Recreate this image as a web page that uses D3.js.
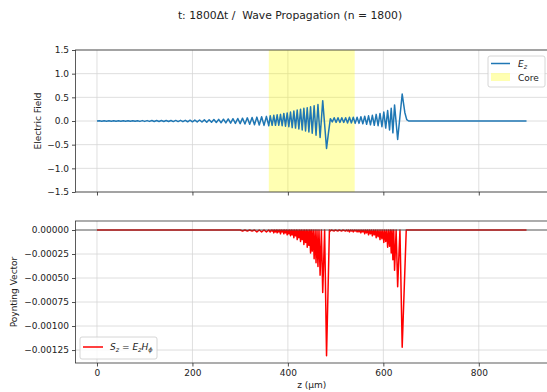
<!DOCTYPE html>
<html>
<head>
<meta charset="utf-8">
<script src="https://cdn.jsdelivr.net/npm/d3@7"></script>
<style>
  body { margin: 0; background: #fff; }
  svg { display: block; font-family: "DejaVu Sans", sans-serif; }
</style>
</head>
<body>
<svg class="chart"></svg>
<script>
// values
var xTicks = [0, 200, 400, 600, 800];
var eTicks = [-1.5, -1.0, -0.5, 0.0, 0.5, 1.0, 1.5];
var sTicks = [0, -0.00025, -0.0005, -0.00075, -0.001, -0.00125];
var coreRange = [360, 540];
var titleText = "t: 1800\u0394t /  Wave Propagation (n = 1800)";

// E_z samples [z, E]
var ezSamples = [
  [0, 0], [5, .005], [10, -.005], [15, .005], [20, -.005], [25, .005], [30, -.005], [35, .006], [40, -.006],
  [45, .006], [50, -.006], [55, .006], [60, -.006], [65, .007], [70, -.007], [75, .007], [80, -.007],
  [85, .007], [90, -.008], [95, .008], [100, -.008], [105, .008], [110, -.008], [115, .009], [120, -.009],
  [125, .009], [130, -.009], [135, .01], [140, -.01], [145, .01], [150, -.011], [155, .011], [160, -.012],
  [165, .012], [170, -.013], [175, .014], [180, -.014], [185, .015], [190, -.016], [195, .017], [200, -.018],
  [205, .019], [210, -.02], [215, .021], [220, -.022], [225, .024], [230, -.025], [235, .027], [240, -.028],
  [245, .03], [250, -.032], [255, .034], [260, -.036], [265, .038], [270, -.04], [275, .043], [280, -.045],
  [285, .048], [290, -.05], [295, .053], [300, -.056], [305, .06], [310, -.063], [315, .067], [320, -.07],
  [325, .074], [330, -.078], [335, .082], [340, -.085], [345, .09], [350, -.093], [355, .098], [360, -.1],
  [363, .11], [367, -.09], [370.5, .12], [374, -.09], [377.5, .13], [381, -.09], [384.5, .14], [388, -.1],
  [391.5, .16], [395, -.11], [398.5, .17], [402, -.12], [405.5, .19], [409, -.14], [412.5, .21], [416, -.15],
  [419.5, .23], [423, -.17], [426.5, .25], [430, -.19], [433.5, .27], [437, -.21], [440.5, .28], [444, -.23],
  [447.5, .3], [451, -.26], [455, .32], [459, -.3], [463, .35], [467.5, -.35], [473, .43], [481, -.58],
  [485, -.25], [489, .05], [493, -.02], [497, .07], [501, -.03], [505, .07], [509, -.03], [513, .07],
  [517, -.03], [521, .07], [525, -.04], [529, .08], [533, -.04], [537, .08], [541, -.05], [545, .08],
  [549, -.05], [553, .09], [557, -.06], [561, .1], [565, -.07], [569, .11], [573, -.08], [577, .12],
  [581, -.09], [585, .14], [589, -.1], [593, .16], [597, -.12], [601, .19], [605, -.15], [609, .22],
  [613, -.19], [616.5, .27], [620, -.25], [623.5, .34], [630, -.39], [639.5, .57], [645, .18], [649, .03],
  [653, 0], [900, 0]
];

// S_z samples [z, S]
var szSamples = [
  [0, 0], [300, 0], [305, -.00001], [310, 0], [315, -.00001], [320, 0], [325, -.00001], [330, 0],
  [335, -.00002], [340, 0], [345, -.00002], [350, 0], [355, -.00002], [360, 0],
  [363, -.00002], [365, 0], [367, -.00001], [368.8, 0], [370.5, -.00003], [372.2, 0], [374, -.00002], [375.8, 0],
  [377.5, -.00003], [379.2, 0], [381, -.00002], [382.8, 0], [384.5, -.00004], [386.2, 0], [388, -.00002], [389.8, 0],
  [391.5, -.00004], [393.2, 0], [395, -.00003], [396.8, 0], [398.5, -.00005], [400.2, 0], [402, -.00004], [403.8, 0],
  [405.5, -.00006], [407.2, 0], [409, -.00005], [410.8, 0], [412.5, -.00008], [414.2, 0], [416, -.00006], [417.8, 0],
  [419.5, -.0001], [421.2, 0], [423, -.00008], [424.8, 0], [426.5, -.00012], [428.2, 0], [430, -.0001], [431.8, 0],
  [433.5, -.00015], [435.2, 0], [437, -.00013], [438.8, 0], [440.5, -.00018], [442.2, 0], [444, -.00016], [445.8, 0],
  [447.5, -.00024], [449.2, 0], [451, -.00022], [453, 0], [455, -.0003], [457, 0], [459, -.00034], [461, 0],
  [463, -.00038], [465.2, 0], [467.5, -.00047], [470.2, 0], [473, -.00065], [477, 0], [481, -.00131], [487, 0],
  [489, -.00001], [491, 0], [497, -.00001], [499, 0], [505, -.00001], [507, 0], [513, -.00001], [515, 0],
  [521, -.00001], [523, 0], [525, -.00001], [527, 0], [529, -.00002], [531, 0], [533, -.00001], [535, 0],
  [537, -.00002], [539, 0], [541, -.00001], [543, 0], [545, -.00002], [547, 0], [549, -.00002], [551, 0],
  [553, -.00003], [555, 0], [557, -.00002], [559, 0], [561, -.00004], [563, 0], [565, -.00003], [567, 0],
  [569, -.00005], [571, 0], [573, -.00004], [575, 0], [577, -.00006], [579, 0], [581, -.00005], [583, 0],
  [585, -.00008], [587, 0], [589, -.00007], [591, 0], [593, -.0001], [595, 0], [597, -.00009], [599, 0],
  [601, -.00013], [603, 0], [605, -.00012], [607, 0], [609, -.00018], [611, 0], [613, -.00017], [614.8, 0],
  [616.5, -.00024], [618.2, 0], [620, -.00031], [621.8, 0], [623.5, -.00042], [626.8, 0], [630, -.00059],
  [634.8, 0], [639.5, -.00122], [648, 0], [900, 0]
];

var W = 547, H = 392;
var svg = d3.select(".chart").attr("width", W).attr("height", H);

var left = 75.5, right = 548;
var topBox = {y0: 50, y1: 192};
var botBox = {y0: 221, y1: 363};

var scaleX = d3.scaleLinear().domain([-45, 945]).range([left, right]);
var scaleE = d3.scaleLinear().domain([-1.5, 1.5]).range([topBox.y1, topBox.y0]);
var scaleS = d3.scaleLinear().domain([-0.001385, 0.0000938]).range([botBox.y1, botBox.y0]);

function fmtMinus(s) { return s.replace("-", "\u2212"); }

// grid lines behind everything
function drawGrid(box, scaleY, ticks) {
  var g = svg.append("g");
  g.selectAll(".gx").data(xTicks).enter().append("line")
    .attr("x1", function(d) { return scaleX(d); }).attr("x2", function(d) { return scaleX(d); })
    .attr("y1", box.y0).attr("y2", box.y1)
    .attr("stroke", "#d6d6d6").attr("stroke-width", 0.8);
  g.selectAll(".gy").data(ticks).enter().append("line")
    .attr("x1", left).attr("x2", right)
    .attr("y1", function(d) { return scaleY(d); }).attr("y2", function(d) { return scaleY(d); })
    .attr("stroke", "#d6d6d6").attr("stroke-width", 0.8);
}

// axes + spines on top
function drawFrame(box, scaleY, ticks, fmt, showXLabels) {
  var g = svg.append("g");
  var yAxis = d3.axisLeft(scaleY).tickValues(ticks).tickSize(3.5).tickPadding(3)
    .tickFormat(function(d) { return fmtMinus(fmt(d)); });
  var ya = g.append("g").attr("transform", "translate(" + left + ",0)").call(yAxis);
  ya.select(".domain").remove();
  var xAxis = d3.axisBottom(scaleX).tickValues(xTicks).tickSize(3.5).tickPadding(3.5)
    .tickFormat(showXLabels ? d3.format("d") : "");
  var xa = g.append("g").attr("transform", "translate(0," + box.y1 + ")").call(xAxis);
  xa.select(".domain").remove();
  g.selectAll(".tick text").attr("font-size", 9).attr("font-family", "DejaVu Sans").attr("fill", "#222");
  g.selectAll(".tick line").attr("stroke", "#222").attr("stroke-width", 0.8);
  g.append("rect").attr("x", left).attr("y", box.y0)
    .attr("width", right - left).attr("height", box.y1 - box.y0)
    .attr("fill", "none").attr("stroke", "#333").attr("stroke-width", 0.8);
}

// ---- top panel: Electric field
drawGrid(topBox, scaleE, eTicks);
svg.append("rect")
  .attr("x", scaleX(coreRange[0])).attr("y", topBox.y0)
  .attr("width", scaleX(coreRange[1]) - scaleX(coreRange[0]))
  .attr("height", topBox.y1 - topBox.y0)
  .attr("fill", "yellow").attr("opacity", 0.3);

var lineE = d3.line().x(function(d) { return scaleX(d[0]); }).y(function(d) { return scaleE(d[1]); });
svg.append("path").datum(ezSamples).attr("d", lineE)
  .attr("fill", "none").attr("stroke", "#1f77b4").attr("stroke-width", 1.5).attr("stroke-linejoin", "round");
drawFrame(topBox, scaleE, eTicks, d3.format(".1f"), false);

// ---- bottom panel: Poynting vector
drawGrid(botBox, scaleS, sTicks);
var lineS = d3.line().x(function(d) { return scaleX(d[0]); }).y(function(d) { return scaleS(d[1]); });
svg.append("path").datum(szSamples).attr("d", lineS)
  .attr("fill", "none").attr("stroke", "red").attr("stroke-width", 1.5).attr("stroke-linejoin", "round");
svg.append("line").attr("x1", left).attr("x2", right)
  .attr("y1", scaleS(0)).attr("y2", scaleS(0))
  .attr("stroke", "#444").attr("stroke-width", 1).attr("opacity", 0.8);
drawFrame(botBox, scaleS, sTicks, d3.format(".5f"), true);

// ---- texts
svg.append("text").attr("x", 290).attr("y", 19).attr("text-anchor", "middle")
  .attr("font-size", 10.8).attr("fill", "#222").style("white-space", "pre").text(titleText);
svg.append("text").attr("transform", "translate(40.5,121) rotate(-90)").attr("text-anchor", "middle")
  .attr("font-size", 9).attr("fill", "#222").text("Electric Field");
svg.append("text").attr("transform", "translate(16.5,292) rotate(-90)").attr("text-anchor", "middle")
  .attr("font-size", 9).attr("fill", "#222").text("Poynting Vector");
svg.append("text").attr("x", (left + right) / 2).attr("y", 388).attr("text-anchor", "middle")
  .attr("font-size", 9).attr("fill", "#222").text("z (\u03bcm)");

// ---- legends
var lg1 = svg.append("g");
lg1.append("rect").attr("x", 488).attr("y", 56).attr("width", 57).attr("height", 31).attr("rx", 2)
  .attr("fill", "#fff").attr("fill-opacity", 0.8).attr("stroke", "#ccc").attr("stroke-width", 0.8);
lg1.append("line").attr("x1", 491).attr("x2", 510).attr("y1", 63.5).attr("y2", 63.5)
  .attr("stroke", "#1f77b4").attr("stroke-width", 1.5);
var t1 = lg1.append("text").attr("x", 518).attr("y", 67).attr("font-size", 9).attr("fill", "#222");
t1.append("tspan").attr("font-style", "italic").text("E");
t1.append("tspan").attr("font-style", "italic").attr("font-size", 6.5).attr("dy", 1.5).text("z");
lg1.append("rect").attr("x", 491).attr("y", 73).attr("width", 19).attr("height", 8)
  .attr("fill", "yellow").attr("opacity", 0.3);
lg1.append("text").attr("x", 518).attr("y", 80.5).attr("font-size", 9).attr("fill", "#222").text("Core");

var lg2 = svg.append("g");
lg2.append("rect").attr("x", 80).attr("y", 337).attr("width", 77).attr("height", 22).attr("rx", 2)
  .attr("fill", "#fff").attr("fill-opacity", 0.8).attr("stroke", "#ccc").attr("stroke-width", 0.8);
lg2.append("line").attr("x1", 83).attr("x2", 103).attr("y1", 347).attr("y2", 347)
  .attr("stroke", "red").attr("stroke-width", 1.5);
var t2 = lg2.append("text").attr("x", 110).attr("y", 350).attr("font-size", 9).attr("fill", "#222");
t2.append("tspan").attr("font-style", "italic").text("S");
t2.append("tspan").attr("font-style", "italic").attr("font-size", 6.5).attr("dy", 1.5).text("z");
t2.append("tspan").attr("dy", -1.5).text(" = ");
t2.append("tspan").attr("font-style", "italic").text("E");
t2.append("tspan").attr("font-style", "italic").attr("font-size", 6.5).attr("dy", 1.5).text("z");
t2.append("tspan").attr("font-style", "italic").attr("dy", -1.5).text("H");
t2.append("tspan").attr("font-style", "italic").attr("font-size", 6.5).attr("dy", 1.5).text("\u03d5");
</script>
</body>
</html>
